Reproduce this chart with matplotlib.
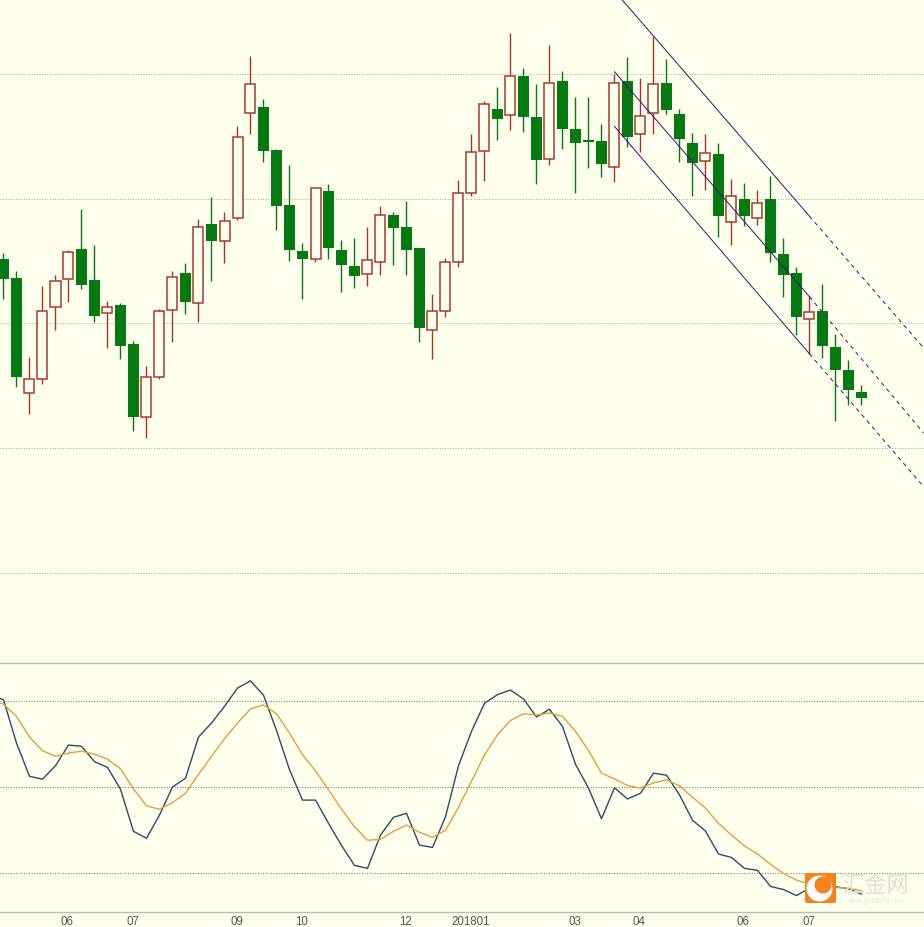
import numpy as np
import matplotlib
matplotlib.use("Agg")
import matplotlib.pyplot as plt
from matplotlib.patches import FancyBboxPatch, Circle
from matplotlib.transforms import ScaledTranslation

highs = [1278.3,1271.0,1236.5,1264.9,1269.3,1279.4,1295.7,1281.3,1259.0,1258.0,1242.8,1232.8,1255.6,1270.9,1274.3,1291.8,1300.6,1294.7,1328.9,1357.2,
         1340.0,1319.9,1313.5,1282.1,1304.2,1305.8,1283.3,1284.1,1288.5,1296.9,1294.7,1298.9,1280.2,1261.7,1276.1,1307.4,1325.9,1339.0,1344.8,1366.3,
         1352.3,1346.0,1361.6,1351.1,1340.6,1340.6,1329.8,1350.0,1356.7,1348.3,1365.2,1355.9,1336.0,1326.2,1325.8,1322.2,1307.9,1306.3,1303.4,1309.1,
         1284.1,1272.7,1261.0,1265.8,1245.6,1235.3,1225.3]
lows = [1259.8,1224.6,1213.4,1225.8,1247.1,1258.3,1263.8,1250.3,1240.2,1235.8,1206.6,1204.0,1227.8,1242.5,1253.5,1250.3,1267.1,1274.3,1291.2,1325.8,
        1314.8,1287.3,1275.1,1259.9,1274.7,1275.9,1262.7,1264.3,1265.1,1269.4,1273.4,1269.4,1242.5,1235.8,1252.3,1272.7,1301.2,1307.1,1323.5,1327.3,
        1326.5,1306.0,1313.6,1320.0,1302.4,1312.4,1308.8,1306.6,1320.8,1318.7,1325.9,1334.0,1314.7,1301.2,1303.5,1284.4,1281.4,1288.8,1289.2,1274.7,
        1260.7,1245.3,1237.7,1236.2,1210.8,1217.0,1217.3]
body_upper = [1275.7,1268.2,1227.8,1254.8,1266.9,1278.5,1279.7,1267.4,1256.4,1257.2,1241.7,1228.4,1254.8,1268.5,1270.1,1288.5,1289.8,1290.9,1324.6,1345.9,
              1336.8,1319.5,1297.3,1279.0,1304.2,1303.0,1279.4,1273.0,1275.3,1293.3,1293.3,1288.5,1280.2,1254.8,1274.5,1302.4,1318.6,1337.8,1335.8,1349.1,
              1349.1,1332.6,1346.3,1347.2,1327.8,1323.4,1323.0,1346.5,1347.2,1332.9,1345.9,1346.3,1333.8,1322.2,1318.4,1317.8,1301.2,1299.8,1298.2,1299.8,
              1277.8,1270.2,1254.4,1254.9,1240.5,1231.3,1222.5]
body_lower = [1267.7,1228.6,1222.0,1227.8,1256.4,1267.7,1265.5,1252.7,1253.9,1241.0,1212.2,1212.3,1228.6,1255.2,1258.3,1258.0,1283.1,1283.1,1292.1,1334.3,
              1319.2,1296.8,1279.5,1275.9,1275.9,1280.0,1273.5,1269.0,1269.7,1274.5,1288.0,1279.5,1247.9,1247.2,1254.8,1274.5,1302.4,1319.0,1331.7,1333.4,
              1332.5,1315.6,1315.8,1327.7,1322.4,1322.8,1314.0,1312.6,1324.8,1325.8,1334.3,1335.3,1323.7,1314.4,1315.0,1292.8,1290.5,1292.8,1292.0,1278.3,
              1269.4,1252.3,1251.6,1241.0,1231.4,1223.4,1220.2]
up_candle = [0,0,1,1,1,1,0,0,1,0,0,1,1,1,0,1,0,1,1,1,
             0,0,0,0,1,0,0,0,1,1,0,0,0,1,1,1,1,1,0,1,
             0,0,1,0,0,0,0,1,0,1,1,0,0,0,1,0,1,0,1,0,
             0,0,1,0,0,0,0]

k_line = [82.3,80.5,65.4,53.8,52.8,57.5,64.7,64.3,58.9,56.9,49.3,34.6,32.2,40.3,50.1,53.1,67.5,72.4,78.2,84.6,
          87.1,82.1,69.8,56.1,45.5,45.5,37.4,29.7,22.7,21.7,33.3,39.5,40.9,29.8,29.0,39.7,57.5,69.5,79.3,82.3,
          83.9,80.8,74.5,77.2,71.2,58.0,49.7,39.0,49.8,45.9,47.9,54.9,54.2,47.3,38.5,34.7,26.7,25.5,21.7,21.0,
          15.4,14.3,12.2,14.8,16.2,15.3,14.6,12.7]
d_line = [80.3,79.0,74.7,67.5,62.7,60.8,61.9,62.6,61.5,59.8,56.4,49.4,43.5,42.3,44.6,47.9,54.5,60.8,66.9,72.4,
          77.3,78.7,75.6,68.9,61.3,55.7,49.1,42.4,36.2,31.5,31.8,34.6,36.8,34.3,32.5,35.0,43.0,52.0,61.3,68.3,
          73.3,75.6,75.2,75.9,74.7,69.5,62.8,54.9,52.9,50.6,49.7,51.5,52.6,50.5,46.5,42.7,37.4,33.3,29.5,26.7,
          23.1,19.9,17.6,16.2,15.7,15.0,14.8,13.9]

channel_idx = [47, 62, 70.77]
channel_top = [1383.2, 1292.9, 1240.1]
channel_mid = [1350.8, 1260.6, 1206.0]
channel_low = [1328.9, 1237.7, 1184.5]

price_grid = [1350, 1300, 1250, 1200, 1150]
kd_grid = [80, 50, 20]
tick_idx = [5, 10, 18, 23, 31, 36, 44, 49, 57, 62]
tick_labels = ["06", "07", "09", "10", "12", "201801", "03", "04", "06", "07"]

BG = "#FFFFEE"
RED = "#A8352B"
GREEN = "#067A12"
CHAN = "#3A1478"
PX = 0.72

W, H = 924, 928
fig = plt.figure(figsize=(W / 100, H / 100), dpi=100, facecolor=BG)
plt.rcParams["font.family"] = ["Liberation Sans", "DejaVu Sans"]

def box(top, bottom):
    return [0, 1 - bottom / H, 1, (bottom - top) / H]

ax = fig.add_axes(box(0, 663.5), facecolor=BG)
ax2 = fig.add_axes(box(663.5, 912.5), facecolor=BG)
xlim = (-3.5 / 13, (W - 3.5) / 13)

# price panel
price_top = 1380.0
ax.set_xlim(*xlim)
ax.set_ylim(price_top - 663.5 * 0.401, price_top)
for g in price_grid:
    ax.axhline(g, color="#A8A898", lw=PX, ls=(0, (1, 1.6)), zorder=1)
idx = np.arange(len(highs))
up = np.array(up_candle, bool)
hi, lo = np.array(highs), np.array(lows)
bu, bl = np.array(body_upper), np.array(body_lower)
ax.vlines(idx[up], lo[up], hi[up], color=RED, lw=PX * 1.4, zorder=2)
ax.vlines(idx[~up], lo[~up], hi[~up], color=GREEN, lw=PX * 1.4, zorder=2)
ax.bar(idx[up], (bu - bl)[up], bottom=bl[up], width=10 / 13, facecolor=BG,
       edgecolor=RED, linewidth=PX * 1.5, zorder=3)
ax.bar(idx[~up], (bu - bl)[~up], bottom=bl[~up], width=11 / 13, facecolor=GREEN,
       edgecolor="none", zorder=3)
for series in (channel_top, channel_mid, channel_low):
    ax.plot(channel_idx[:2], series[:2], color=CHAN, lw=PX, zorder=4)
    ax.plot(channel_idx[1:], series[1:], color=CHAN, lw=PX, ls=(0, (4, 4)), zorder=4)
ax.set_xticks([]); ax.set_yticks([])
for s in ax.spines.values():
    s.set_visible(False)

# KD panel
kd_shift = 0.25
ax2.set_xlim(*xlim)
ax2.set_ylim(20 - 39 / 2.8667 + kd_shift, 80 + 38 / 2.8667 + kd_shift)
for g in kd_grid:
    ax2.axhline(g, color="#77776A", lw=PX, ls=(0, (1, 1.6)), zorder=1)
kd_x = np.arange(-1, len(k_line) - 1)
ax2.plot(kd_x, k_line, color="#2E4A66", lw=1.0, zorder=3)
ax2.plot(kd_x, d_line, color="#E0A040", lw=1.0, zorder=4)
ax2.set_yticks([])
ax2.set_xticks(tick_idx)
ax2.set_xticklabels(tick_labels, fontsize=8.3, color="#555555")
ax2.tick_params(axis="x", length=0, pad=2.5)
shift = ScaledTranslation(-1.0 / 100, 0, fig.dpi_scale_trans)
for lab in ax2.get_xticklabels():
    lab.set_transform(lab.get_transform() + shift)
for name, s in ax2.spines.items():
    s.set_visible(name in ("top", "bottom"))
    s.set_color("#BDBDB0")
    s.set_linewidth(1.0)

# watermark overlay, laid out in pixels
ov = fig.add_axes([0, 0, 1, 1], facecolor="none", zorder=10)
ov.set_xlim(0, W); ov.set_ylim(H, 0); ov.axis("off")
ov.add_patch(FancyBboxPatch((805, 874), 31, 30, boxstyle="round,pad=0,rounding_size=2",
                            mutation_aspect=1, facecolor="#F5811F", edgecolor="none"))
ov.add_patch(Circle((819.5, 889.5), 13, facecolor="white", edgecolor="none"))
ov.add_patch(Circle((823, 886), 8.5, facecolor="#F5811F", edgecolor="none"))
ov.text(875.5, 886, "汇金网", family=["Noto Sans CJK SC", "DejaVu Sans"], fontsize=16,
        color="#E8DAD2", ha="center", va="center")
ov.text(875.5, 902, "www.gold678.com", fontsize=5.2, color="#EDE3DA", ha="center", va="center")

fig.savefig("out.png", dpi=100, facecolor=BG)
